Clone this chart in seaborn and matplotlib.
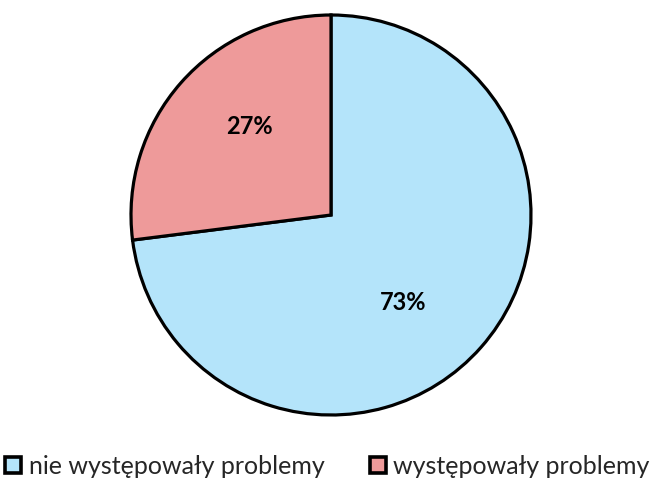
import matplotlib
matplotlib.use("Agg")
import matplotlib.pyplot as plt
import seaborn as sns
import numpy as np

sns.set_theme(style="white")
plt.rcParams['font.family'] = ['Lato', 'DejaVu Sans']

categories = ["nie występowały problemy", "występowały problemy"]
shares = [73, 27]
colors = ["#B4E4FA", "#EE9A9A"]

fig = plt.figure(figsize=(6.51, 4.83), dpi=100)
ax = fig.add_axes([131 / 651, 1 - 415 / 483, 400 / 651, 400 / 483])

wedges, texts, autotexts = ax.pie(
    shares, colors=colors, startangle=90, counterclock=False,
    autopct=lambda p: f"{p:.0f}%", pctdistance=0.6,
    wedgeprops=dict(edgecolor="black", linewidth=2.3),
    textprops=dict(fontsize=17, fontweight="bold", color="black"),
)
# nudge the value labels toward their usual placement
autotexts[0].set_position((0.36, -0.44))
autotexts[1].set_position((-0.41, 0.44))
ax.set_aspect("equal")
ax.set_xlim(-1.0, 1.0)
ax.set_ylim(-1.0, 1.0)

leg = fig.legend(
    wedges, categories, loc="lower center", bbox_to_anchor=(0.503, -0.036),
    ncol=2, frameon=False, fontsize=18, handlelength=0.65, handleheight=0.65,
    handletextpad=0.3, columnspacing=1.8,
)
for h in leg.legend_handles:
    h.set_linewidth(2.6)
    h.set_edgecolor("black")

fig.savefig("out.png", dpi=100)
